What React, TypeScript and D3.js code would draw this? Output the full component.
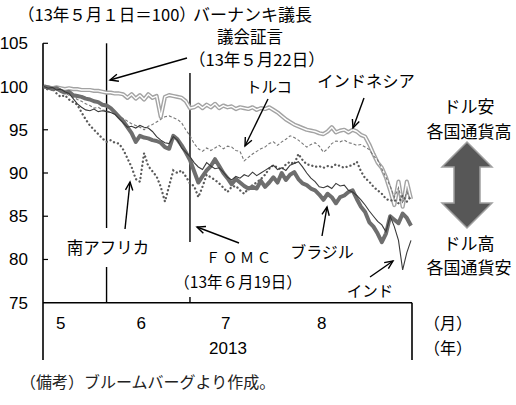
import React from 'react';
import * as d3 from 'd3';

// Business-day series, index 0 = 2013-05-01 (=100)
const indonesia = [
  100.0, 99.9, 99.8, 99.9, 99.8, 99.7, 99.8, 99.7, 99.7, 99.6, 99.6, 99.6, 99.5, 99.5, 99.4,
  99.3, 99.3, 99.2, 99.2, 99.1,
  98.7, 99.1, 98.6, 99.0, 98.5, 99.1, 98.7, 98.9,
  96.5,
  98.8, 99.0, 98.9, 98.8, 98.7, 98.3,
  97.5,
  97.6, 97.9, 97.5, 97.9, 97.6, 98.0, 97.5, 97.8, 97.6, 97.7, 97.4, 97.6, 97.5, 97.4, 97.6, 97.3, 97.5, 97.4, 97.6, 97.3,
  97.0, 96.6, 96.2, 95.9, 95.6, 95.4, 95.2, 95.0, 94.9, 94.8, 94.6, 94.5, 94.8, 95.3, 94.7, 94.9, 95.0, 94.7, 95.0, 94.8, 94.4, 94.2, 93.3, 92.2, 91.2,
  90.6, 89.5, 88.0, 86.3, 89.0, 86.1, 89.0, 87.0,
];
const turkey = [
  100.0, 99.9, 99.7, 99.8, 99.5, 99.3, 99.0, 98.8, 98.5, 98.3, 98.0, 97.8, 97.5, 97.6, 97.3, 97.2, 97.0, 96.8, 96.5, 96.3, 96.0, 95.7, 95.5, 95.3, 95.0,
  95.4, 95.6, 95.9, 96.2, 96.5, 96.6, 96.4, 96.2, 95.8, 95.0, 94.3, 93.4, 92.8, 92.5, 92.9, 92.6, 92.9, 93.2, 92.8, 93.1, 93.0, 92.6, 92.5, 91.4, 91.8,
  92.2, 92.5, 92.8, 93.0, 93.4, 93.6, 93.2, 93.6, 93.9, 94.3, 94.1, 93.8, 93.4, 93.0, 93.3, 93.5, 93.1, 92.4, 92.8, 93.4, 93.7, 93.6, 93.8, 93.5, 93.4,
  93.2, 93.3, 93.0, 92.7, 92.0, 91.5, 90.5, 89.5, 88.5, 87.2, 88.3, 86.5, 87.8, 86.8,
];
const southAfrica = [
  100.0, 99.6, 99.8, 99.2, 98.8, 99.0, 98.5, 98.2, 97.9, 97.0,
  96.2, 95.5, 95.0, 94.5, 94.0, 93.6, 93.8, 93.5, 93.4, 92.7,
  91.7, 90.7, 89.3, 89.0, 92.3, 90.8, 90.2, 89.6, 88.4, 86.7,
  88.5, 90.3, 90.0, 90.3, 89.6, 88.8, 88.5, 87.2, 88.4, 89.8,
  89.5, 89.2, 88.8, 88.3, 87.8, 88.4, 88.5, 88.0, 87.6, 88.2,
  88.6, 88.9, 89.3, 89.8, 90.5, 90.9, 90.6, 90.4, 91.0, 91.3,
  91.0, 92.2, 91.5, 91.0, 90.9, 90.7, 90.8, 90.6, 90.8, 90.7,
  91.0, 90.8, 90.6, 90.8, 90.9, 91.3, 90.2, 89.4, 89.0, 88.4,
  88.0, 87.6, 87.0, 86.8, 86.9, 86.5, 87.4, 86.7, 87.3,
];
const brazil = [
  100.0, 99.9, 99.7, 99.8, 99.5, 99.3, 99.4, 99.0, 98.9, 98.8,
  98.6, 98.5, 98.3, 98.2, 97.9, 97.8, 97.5, 97.0, 96.5, 96.0,
  95.3, 94.6, 93.6, 94.3, 94.1, 94.0, 93.8, 93.7, 93.5, 93.0,
  92.8, 94.3, 93.9, 93.2, 92.4, 91.5, 90.2, 88.9, 89.6, 90.3,
  90.8, 91.6, 90.8, 90.0, 89.4, 88.7, 89.3, 88.9, 88.5, 88.2,
  88.4, 88.2, 89.1, 88.4, 88.9, 89.5, 88.9, 90.0, 89.2, 89.8,
  90.1, 89.3, 88.8, 88.6, 88.2, 88.0, 87.5, 86.9, 87.6, 87.2,
  86.5, 87.2, 87.4, 87.8, 88.0, 87.0, 86.1, 85.5, 84.3, 83.8,
  83.0, 82.0, 83.0, 85.0, 84.6, 84.2, 85.3, 84.8, 83.9,
];
const india = [
  100.0, 99.8, 99.9, 99.6, 99.7, 99.4, 99.2, 98.6, 98.0, 97.6,
  97.3, 97.2, 97.4, 97.1, 97.2, 97.1, 97.0, 96.8, 96.3, 95.8,
  95.3, 95.4, 95.2, 95.5, 95.3, 95.2, 94.8, 94.2, 93.8, 93.5,
  93.4, 94.2, 93.8, 92.9, 92.4, 91.9, 91.2, 90.7, 90.4, 91.2,
  90.8, 90.5, 90.6, 90.1, 89.5, 89.2, 89.6, 89.4, 89.8, 89.6,
  90.1, 89.7, 90.0, 90.3, 90.6, 90.9, 90.4, 90.6, 90.3, 90.9,
  91.1, 91.3, 90.7, 90.0, 89.4, 89.0, 88.4, 88.3, 88.5, 88.2,
  88.8, 88.5, 88.6, 88.0, 87.8, 87.4, 86.9, 86.3, 85.6, 85.0,
  84.4, 84.0, 83.2, 85.0, 83.8, 82.2, 78.8, 80.8, 82.2,
];

const yTicks = [75, 80, 85, 90, 95, 100, 105];
const monthLabels = ['5', '6', '7', '8'];
const monthLabelIdx = [4, 23.3, 43.6, 66.6];
const eventIdx = [15, 35]; // 5/22 Bernanke testimony, 6/19 FOMC

const JP = '"Noto Sans CJK JP", "Noto Sans", sans-serif';
const NUM = '"Liberation Sans Narrow", "Arial Narrow", "Liberation Sans", sans-serif';

function Arrow({ x1, y1, x2, y2 }: { x1: number; y1: number; x2: number; y2: number }) {
  const a = Math.atan2(y2 - y1, x2 - x1);
  const L = 9, s = 0.42;
  const p1 = [x2 - L * Math.cos(a - s), y2 - L * Math.sin(a - s)];
  const p2 = [x2 - L * Math.cos(a + s), y2 - L * Math.sin(a + s)];
  return (
    <g stroke="#000" strokeWidth={1.4} fill="none">
      <line x1={x1} y1={y1} x2={x2} y2={y2} />
      <polyline points={`${p1[0]},${p1[1]} ${x2},${y2} ${p2[0]},${p2[1]}`} />
    </g>
  );
}

export default function App() {
  const n = brazil.length;
  const x = d3.scaleLinear().domain([0, n - 1]).range([44, 411]);
  const y = d3.scaleLinear().domain([75, 105]).range([302.7, 43.3]);
  const line = d3.line<number>().x((_, i) => x(i)).y((d) => y(d));

  const left = 43, right = 412, bottom = y(75), top = y(105);
  const bx = x(eventIdx[0]);
  const fx = x(eventIdx[1]);

  // big double arrow
  const ax = 467;
  const arrowPts = [
    [ax, 142], [ax + 25, 167], [ax + 13, 167], [ax + 13, 203], [ax + 25, 203], [ax, 228],
    [ax - 25, 203], [ax - 13, 203], [ax - 13, 167], [ax - 25, 167],
  ].map((p) => p.join(',')).join(' ');

  return (
    <svg width={516} height={405} style={{ position: 'absolute', left: 0, top: 0, background: '#fff' }}>
      <rect width={516} height={405} fill="#fff" />
      {/* y axis labels and ticks */}
      {yTicks.map((t) => (
        <g key={t}>
          <text x={28} y={y(t) + 6} textAnchor="end" fontFamily={NUM} fontSize={17}>{t}</text>
          {t !== 75 && t !== 100 && <line x1={left} x2={left + 5} y1={y(t)} y2={y(t)} stroke="#000" strokeWidth={1.2} />}
        </g>
      ))}
      {/* frame */}
      <line x1={left} x2={left} y1={top} y2={360} stroke="#000" strokeWidth={1.6} />
      <line x1={left} x2={right} y1={bottom} y2={bottom} stroke="#000" strokeWidth={1.6} />
      <line x1={right} x2={right} y1={bottom} y2={360} stroke="#000" strokeWidth={1.6} />
      {/* event lines */}
      <line x1={bx} x2={bx} y1={top} y2={228} stroke="#000" strokeWidth={1.4} />
      <line x1={bx} x2={bx} y1={267} y2={bottom} stroke="#000" strokeWidth={1.4} />
      <line x1={fx} x2={fx} y1={73} y2={242} stroke="#000" strokeWidth={1.4} />
      <line x1={fx} x2={fx} y1={297} y2={bottom} stroke="#000" strokeWidth={1.4} />

      {/* series */}
      <path d={line(indonesia) || ''} fill="none" stroke="#a3a3a3" strokeWidth={4.2} strokeLinejoin="round" />
      <path d={line(indonesia) || ''} fill="none" stroke="#fff" strokeWidth={1.4} strokeLinejoin="round" />
      <path d={line(turkey) || ''} fill="none" stroke="#777" strokeWidth={1.1} strokeDasharray="3 2" />
      <path d={line(southAfrica) || ''} fill="none" stroke="#5a5a5a" strokeWidth={2.3} strokeDasharray="0.1 4" strokeLinecap="round" />
      <path d={line(brazil) || ''} fill="none" stroke="#6e6e6e" strokeWidth={4} strokeLinejoin="round" />
      <path d={line(india) || ''} fill="none" stroke="#3a3a3a" strokeWidth={1.1} />

      {/* x labels */}
      {monthLabels.map((m, i) => (
        <text key={m} x={x(monthLabelIdx[i])} y={329} textAnchor="middle" fontFamily={NUM} fontSize={17}>{m}</text>
      ))}
      <text x={228} y={354} textAnchor="middle" fontFamily={NUM} fontSize={17}>2013</text>
      <text x={424} y={329} fontFamily={JP} fontSize={16}>（月）</text>
      <text x={424} y={354} fontFamily={JP} fontSize={16}>（年）</text>

      {/* title and annotations */}
      <text x={18} y={21} fontFamily={JP} fontSize={16.5}>（13年５月１日＝100）</text>
      <text x={193} y={21} fontFamily={JP} fontSize={17}>バーナンキ議長</text>
      <text x={250} y={43} textAnchor="middle" fontFamily={JP} fontSize={16.5}>議会証言</text>
      <text x={189} y={66} fontFamily={JP} fontSize={16.5}>（13年５月22日）</text>
      <Arrow x1={187} y1={58} x2={110} y2={80} />

      <text x={269} y={93} textAnchor="middle" fontFamily={JP} fontSize={15.5}>トルコ</text>
      <Arrow x1={268} y1={99} x2={245} y2={146} />

      <text x={366} y={87} textAnchor="middle" fontFamily={JP} fontSize={16.3}>インドネシア</text>
      <Arrow x1={364} y1={98} x2={353} y2={128} />

      <text x={108} y={254} textAnchor="middle" fontFamily={JP} fontSize={16.5}>南アフリカ</text>
      <Arrow x1={125} y1={229} x2={130} y2={182} />

      <text x={240} y={263} textAnchor="middle" fontFamily={JP} fontSize={14} letterSpacing={3}>ＦＯＭＣ</text>
      <text x={238} y={288} textAnchor="middle" fontFamily={JP} fontSize={15.5}>（13年６月19日）</text>
      <Arrow x1={239} y1={243} x2={197} y2={227} />

      <text x={322} y={258} textAnchor="middle" fontFamily={JP} fontSize={16}>ブラジル</text>
      <Arrow x1={322} y1={236} x2={327} y2={207} />

      <text x={370} y={297} textAnchor="middle" fontFamily={JP} fontSize={15.5}>インド</text>
      <Arrow x1={370} y1={277} x2={393} y2={261} />

      {/* right side legend */}
      <text x={469} y={113} textAnchor="middle" fontFamily={JP} fontSize={17}>ドル安</text>
      <text x={469} y={138} textAnchor="middle" fontFamily={JP} fontSize={17}>各国通貨高</text>
      <polygon points={arrowPts} fill="#575757" stroke="#a0a0a0" strokeWidth={1.5} strokeLinejoin="miter" />
      <text x={469} y={250} textAnchor="middle" fontFamily={JP} fontSize={17}>ドル高</text>
      <text x={469} y={274} textAnchor="middle" fontFamily={JP} fontSize={17}>各国通貨安</text>

      <text x={20} y={388} fontFamily={JP} fontSize={16} fill="#222">（備考）ブルームバーグより作成。</text>
    </svg>
  );
}
